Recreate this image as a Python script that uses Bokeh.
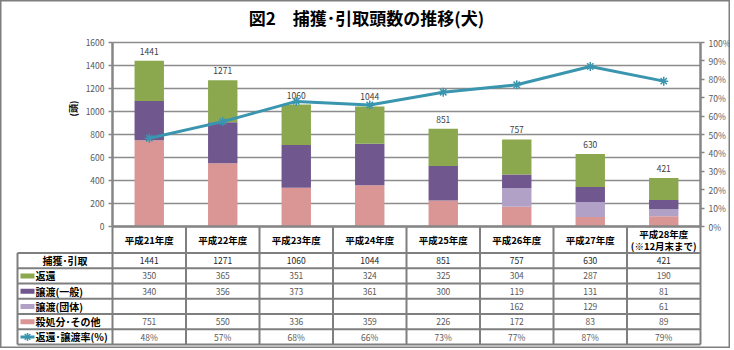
import math
from bokeh.plotting import figure
from bokeh.models import (ColumnDataSource, Range1d, LinearAxis, FixedTicker,
                          PrintfTickFormatter, Label)
from bokeh.core.properties import value
from bokeh.embed import file_html
from bokeh.resources import INLINE

# ---------------- data ----------------
categories = ["平成21年度", "平成22年度", "平成23年度", "平成24年度",
              "平成25年度", "平成26年度", "平成27年度", "平成28年度"]
category_notes = ["", "", "", "", "", "", "", "(※12月末まで)"]
captured = [1441, 1271, 1060, 1044, 851, 757, 630, 421]          # 捕獲・引取
returned = [350, 365, 351, 324, 325, 304, 287, 190]              # 返還
transfer_general = [340, 356, 373, 361, 300, 119, 131, 81]       # 譲渡(一般)
transfer_group = [None, None, None, None, None, 162, 129, 61]    # 譲渡(団体)
euthanized = [751, 550, 336, 359, 226, 172, 83, 89]              # 殺処分・その他
rate = [48, 57, 68, 66, 73, 77, 87, 79]                          # 返還・譲渡率(%)
left_ticks = [0, 200, 400, 600, 800, 1000, 1200, 1400, 1600]
right_ticks = [0, 10, 20, 30, 40, 50, 60, 70, 80, 90, 100]
row_labels = ["捕獲･引取", "返還", "譲渡(一般)", "譲渡(団体)", "殺処分･その他", "返還･譲渡率(%)"]
title_text = "図2　捕獲･引取頭数の推移(犬)"
y_title = "(頭)"

# ---------------- style ----------------
FONT = "Noto Sans CJK JP"
GREEN = "#8BA84F"
PURPLE = "#70588E"
LPURPLE = "#B2A1C7"
PINK = "#D99694"
TEAL = "#3A95AF"
GRID = "#8C8C8C"
AXIS = "#868686"
TABLE = "#7F7F7F"
TICKTXT = "#595959"

# layout geometry (page pixels)
W, H = 730, 348
PL_L, PL_R, PL_T, PL_B = 112, 700, 42, 226      # plot area
N = len(categories)
CAT_W = (PL_R - PL_L) / N
Y_PER_PX = 1600 / (PL_B - PL_T)
PCT_PER_PX = 100 / (PL_B - PL_T)


def xd(px):
    return (px - PL_L) / CAT_W


def yd(py):
    return (PL_B - py) * Y_PER_PX


def pd(py):
    return (PL_B - py) * PCT_PER_PX


p = figure(frame_width=W, frame_height=H,
           min_border_left=0, min_border_right=0, min_border_top=0, min_border_bottom=0,
           x_range=Range1d(xd(0), xd(W)), y_range=Range1d(yd(H), yd(0)),
           x_axis_type=None, y_axis_type=None,
           output_backend="svg", toolbar_location=None,
           background_fill_color="white", border_fill_color="white")
p.outline_line_color = TABLE
p.outline_line_width = 2
p.xgrid.grid_line_color = None
p.ygrid.grid_line_color = None
p.extra_y_ranges = {"pct": Range1d(pd(H), pd(0))}


def style_axis(ax):
    ax.axis_line_color = AXIS
    ax.axis_line_width = 2.5
    ax.major_tick_line_color = AXIS
    ax.major_tick_line_width = 1.5
    ax.major_tick_out = 4
    ax.major_tick_in = 0
    ax.minor_tick_line_color = None
    ax.major_label_text_font = FONT
    ax.major_label_text_font_size = "8.5px"
    ax.major_label_text_color = TICKTXT
    ax.major_label_standoff = 4


# horizontal gridlines across the plot area
p.segment(x0=[0] * len(left_ticks), y0=left_ticks, x1=[N] * len(left_ticks), y1=left_ticks,
          line_color=GRID, line_width=1.5)

ly = LinearAxis(ticker=FixedTicker(ticks=left_ticks), bounds=(0, 1600))
ly.fixed_location = 0
style_axis(ly)
p.add_layout(ly, "left")

ry = LinearAxis(y_range_name="pct", ticker=FixedTicker(ticks=right_ticks), bounds=(0, 100),
                formatter=PrintfTickFormatter(format="%d%%"))
ry.fixed_location = N
style_axis(ry)
p.add_layout(ry, "right")

xc = [i + 0.5 for i in range(N)]
src = ColumnDataSource(dict(
    x=xc,
    euth=euthanized,
    grp=[v if v is not None else 0 for v in transfer_group],
    gen=transfer_general,
    ret=returned,
    total=captured,
    total_label=[str(v) for v in captured],
    rate=rate,
))
p.vbar_stack(["euth", "grp", "gen", "ret"], x="x", width=0.4,
             fill_color=[PINK, LPURPLE, PURPLE, GREEN], line_color=None, source=src)
p.text(x="x", y="total", text="total_label", source=src, y_offset=-6,
       text_align="center", text_baseline="bottom", text_font=value(FONT),
       text_font_size="8.5px", text_color="#404040")
p.line(x="x", y="rate", source=src, y_range_name="pct", line_color=TEAL, line_width=3)
p.scatter(x="x", y="rate", source=src, y_range_name="pct", marker="asterisk",
          size=9, line_color=TEAL, line_width=1.5)

p.add_layout(Label(x=xd(366), y=yd(17), text=title_text, text_align="center",
                   text_baseline="middle", text_font=FONT, text_font_size="17px",
                   text_font_style="bold", text_color="black"))
p.add_layout(Label(x=xd(73), y=yd(108), text=y_title, angle=math.pi / 2,
                   text_align="center", text_baseline="middle", text_font=FONT,
                   text_font_size="9px", text_font_style="bold", text_color="black"))

# ---------------- data table ----------------
TABLE_L = 17
HEADER_T = PL_B
HEADER_B = 252.5
ROW_H = 15.25
TABLE_B = HEADER_B + ROW_H * len(row_labels)

xl = xd(TABLE_L)
vx = [xl] + list(range(N + 1))
vy0 = [yd(HEADER_B)] + [0] * (N + 1)
p.segment(x0=vx, y0=vy0, x1=vx, y1=[yd(TABLE_B)] * len(vx), line_color=TABLE, line_width=2)
hy = [yd(HEADER_B + ROW_H * k) for k in range(len(row_labels) + 1)]
p.segment(x0=[xl] * len(hy), y0=hy, x1=[N] * len(hy), y1=hy, line_color=TABLE, line_width=2)
p.segment(x0=[0], y0=[0], x1=[N], y1=[0], line_color=AXIS, line_width=2.5)

# header labels
hdr_mid = (HEADER_T + HEADER_B) / 2
hdr_y = [yd(hdr_mid - (6 if note else 0)) for note in category_notes]
p.text(x=xc, y=hdr_y, text=categories, text_align="center", text_baseline="middle",
       text_font=value(FONT), text_font_size="9.5px", text_font_style="bold", text_color="black")
note_x = [x for x, note in zip(xc, category_notes) if note]
note_t = [note for note in category_notes if note]
p.text(x=note_x, y=[yd(hdr_mid + 6.5)] * len(note_x), text=note_t,
       text_align="center", text_baseline="middle", text_font=value(FONT),
       text_font_size="9.5px", text_font_style="bold", text_color="black")

# row values
row_values = [
    [str(v) for v in captured],
    [str(v) for v in returned],
    [str(v) for v in transfer_general],
    ["" if v is None else str(v) for v in transfer_group],
    [str(v) for v in euthanized],
    [f"{v}%" for v in rate],
]
row_y = [yd(HEADER_B + ROW_H * (k + 0.5)) for k in range(len(row_labels))]
for k, vals in enumerate(row_values):
    p.text(x=xc, y=[row_y[k]] * N, text=vals, text_align="center", text_baseline="middle",
           text_font=value(FONT), text_font_size="8.5px",
           text_color="#262626" if k == 0 else "#595959")

# row labels and keys
p.text(x=[xl / 2], y=[row_y[0]], text=[row_labels[0]], text_align="center",
       text_baseline="middle", text_font=value(FONT), text_font_size="10px",
       text_font_style="bold", text_color="black")
p.text(x=[xd(35)] * (len(row_labels) - 1), y=row_y[1:], text=row_labels[1:],
       text_align="left", text_baseline="middle", text_font=value(FONT),
       text_font_size="10px", text_font_style="bold", text_color="black")
k0, k1 = xd(20), xd(34)
p.rect(x=[(k0 + k1) / 2] * 4, y=row_y[1:5], width=k1 - k0, height=5 * Y_PER_PX,
       fill_color=[GREEN, PURPLE, LPURPLE, PINK], line_color=None)
p.segment(x0=[k0], y0=[row_y[5]], x1=[k1], y1=[row_y[5]], line_color=TEAL, line_width=3)
p.scatter(x=[(k0 + k1) / 2], y=[row_y[5]], marker="asterisk", size=8,
          line_color=TEAL, line_width=1.5)

with open("out.html", "w") as f:
    f.write(file_html(p, INLINE))
